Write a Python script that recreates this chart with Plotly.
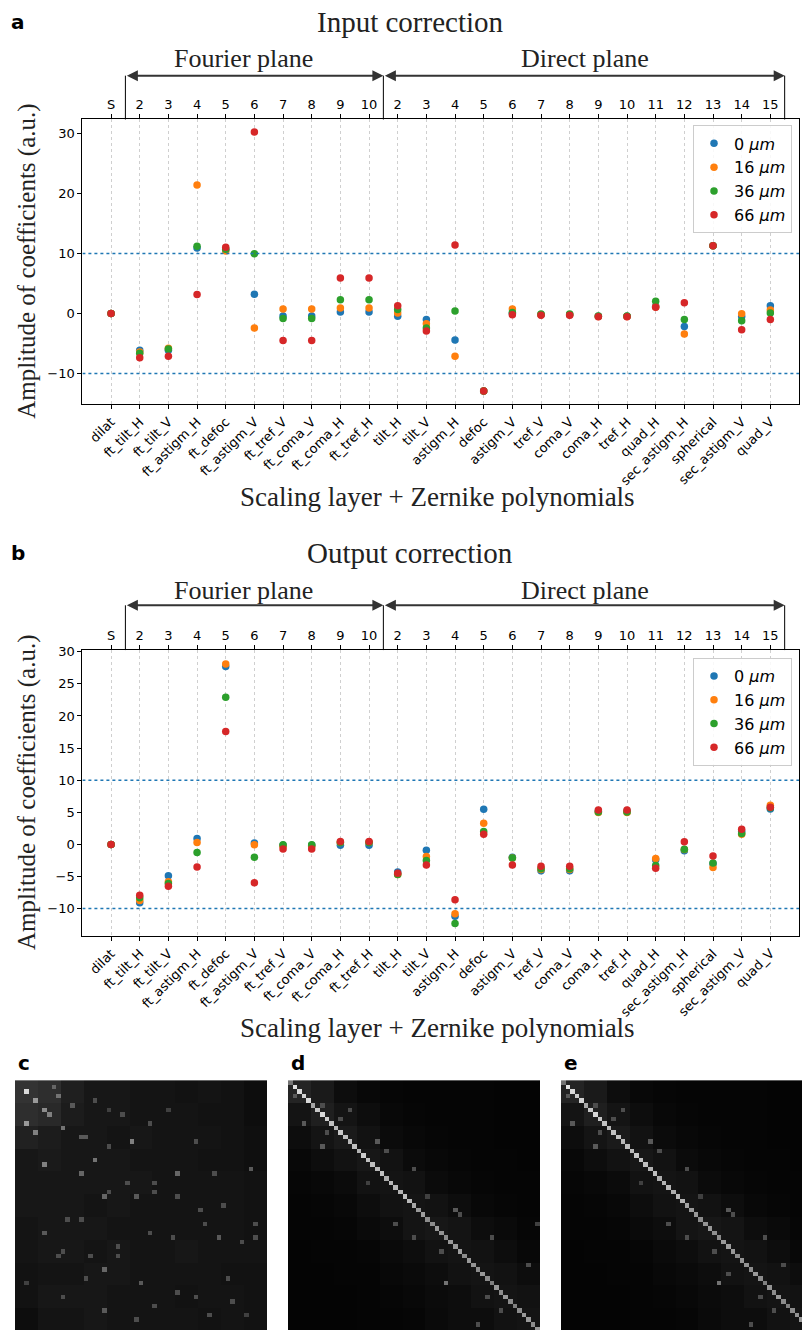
import numpy as np
import plotly.graph_objects as go

# ---------------- data ----------------
categories = ["dilat", "ft_tilt_H", "ft_tilt_V", "ft_astigm_H", "ft_defoc", "ft_astigm_V",
              "ft_tref_V", "ft_coma_V", "ft_coma_H", "ft_tref_H", "tilt_H", "tilt_V",
              "astigm_H", "defoc", "astigm_V", "tref_V", "coma_V", "coma_H", "tref_H",
              "quad_H", "sec_astigm_H", "spherical", "sec_astigm_V", "quad_V"]
top_labels = ["S", "2", "3", "4", "5", "6", "7", "8", "9", "10",
              "2", "3", "4", "5", "6", "7", "8", "9", "10", "11", "12", "13", "14", "15"]
series_names = ["0 <i>μm</i>", "16 <i>μm</i>", "36 <i>μm</i>", "66 <i>μm</i>"]
series_colors = ["#1f77b4", "#ff7f0e", "#2ca02c", "#d62728"]

in_0um = [0, -6.1, -6.1, 10.9, 10.6, 3.2, -0.4, -0.4, 0.25, 0.25, -0.45, -1.0, -4.4, -12.9,
          0.0, -0.2, -0.2, -0.45, -0.45, 1.2, -2.15, 11.3, -0.5, 1.3]
in_16um = [0, -6.4, -5.8, 21.4, 10.4, -2.4, 0.77, 0.77, 0.9, 0.9, 0.1, -1.7, -7.1, -12.9,
           0.77, -0.2, -0.2, -0.5, -0.5, 1.1, -3.4, 11.3, -0.05, 0.6]
in_36um = [0, -6.6, -5.9, 11.2, 10.7, 9.95, -0.85, -0.85, 2.3, 2.3, 0.65, -2.4, 0.4, -12.9,
           0.17, -0.1, -0.1, -0.4, -0.4, 2.05, -1.0, 11.3, -1.2, 0.1]
in_66um = [0, -7.35, -7.1, 3.15, 11.05, 30.2, -4.48, -4.48, 5.9, 5.9, 1.3, -2.9, 11.4, -12.9,
           -0.2, -0.3, -0.3, -0.55, -0.55, 1.05, 1.8, 11.3, -2.7, -1.0]

out_0um = [0, -9.07, -4.9, 0.9, 27.7, 0.2, -0.15, -0.15, -0.15, -0.15, -4.3, -0.9, -11.2, 5.46,
           -2.0, -4.1, -4.1, 5.15, 5.15, -2.4, -1.0, -3.0, 2.0, 5.5]
out_16um = [0, -8.75, -5.8, 0.3, 28.1, -0.05, -0.3, -0.3, 0.3, 0.3, -4.7, -1.9, -10.8, 3.3,
            -2.1, -3.9, -3.9, 4.95, 4.95, -2.2, -0.8, -3.6, 1.6, 6.08]
out_36um = [0, -8.3, -6.1, -1.26, 22.9, -2.0, -0.05, -0.05, 0.3, 0.3, -4.7, -2.5, -12.3, 2.0,
            -2.1, -3.8, -3.8, 5.05, 5.05, -3.3, -0.75, -2.9, 1.7, 5.7]
out_66um = [0, -7.9, -6.5, -3.5, 17.6, -5.96, -0.7, -0.7, 0.45, 0.45, -4.5, -3.2, -8.6, 1.6,
            -3.2, -3.4, -3.4, 5.35, 5.35, -3.7, 0.4, -1.8, 2.36, 5.8]

input_series = [in_0um, in_16um, in_36um, in_66um]
output_series = [out_0um, out_16um, out_36um, out_66um]

# heatmaps: coarse 11x11 block brightness (each block = 5x5 cells) + listed bright cells
N_CELLS = 55
c_blocks = [
    [.20, .18, .12, .09, .09, .08, .08, .07, .08, .07, .05],
    [.18, .16, .11, .09, .09, .08, .08, .08, .07, .07, .05],
    [.13, .11, .09, .09, .08, .09, .08, .08, .08, .07, .06],
    [.09, .10, .09, .09, .09, .08, .08, .08, .07, .07, .06],
    [.09, .09, .09, .09, .09, .09, .08, .08, .08, .08, .07],
    [.09, .09, .09, .08, .09, .08, .08, .08, .08, .08, .07],
    [.08, .09, .09, .09, .08, .08, .08, .08, .08, .08, .07],
    [.08, .09, .09, .08, .09, .08, .08, .09, .08, .08, .08],
    [.07, .08, .08, .09, .09, .08, .08, .08, .08, .07, .07],
    [.07, .09, .09, .09, .08, .08, .08, .07, .08, .08, .07],
    [.05, .08, .08, .09, .08, .08, .08, .08, .07, .08, .07],
]
c_rows = [2, 4, 6, 9, 11, 7, 3, 10, 13, 18, 17, 20, 20, 19, 25, 25, 33, 34, 34, 41, 44, 50,
          38, 1, 5, 14, 22, 28, 30, 46, 48, 36, 12, 27,
          4, 6, 7, 9, 6, 13, 20, 12, 24, 22, 24, 25, 30, 37, 38, 38, 33, 34, 31, 35, 31,
          44, 47, 43, 49, 47, 43, 51, 51, 52]
c_cols = [2, 4, 6, 2, 4, 7, 9, 10, 25, 6, 17, 14, 35, 51, 19, 26, 6, 44, 52, 19, 27, 19,
          9, 8, 12, 20, 30, 40, 11, 35, 47, 22, 15, 45,
          17, 20, 23, 29, 33, 39, 43, 14, 20, 24, 30, 35, 14, 10, 16, 22, 29, 34, 41, 49, 52,
          2, 10, 15, 30, 39, 46, 42, 50, 26]
c_vals = [.85, .6, .55, .6, .5, .5, .45, .45, .5, .5, .45, .4, .4, .35, .4, .35, .35, .35, .3,
          .4, .35, .35, .3, .4, .35, .3, .3, .3, .3, .3, .3, .3, .35, .3,
          .3, .25, .3, .3, .25, .3, .3, .35, .3, .3, .3, .3, .3, .3, .3, .3, .3, .3, .3, .3,
          .3, .25, .3, .3, .3, .3, .3, .3, .25, .3]

d_blocks = [
    [.14, .10, .05, .03, .025, .02, .02, .02, .02, .015, .015],
    [.08, .12, .08, .05, .03, .025, .02, .02, .02, .015, .015],
    [.05, .08, .10, .07, .045, .03, .025, .02, .02, .015, .015],
    [.03, .05, .07, .09, .07, .045, .03, .025, .02, .02, .015],
    [.025, .03, .045, .07, .08, .07, .045, .03, .025, .02, .02],
    [.02, .025, .03, .05, .07, .08, .07, .05, .03, .025, .02],
    [.02, .02, .025, .04, .05, .08, .09, .08, .05, .04, .025],
    [.015, .02, .02, .025, .04, .05, .07, .08, .07, .05, .03],
    [.015, .015, .02, .02, .03, .04, .05, .07, .08, .07, .05],
    [.015, .015, .015, .02, .025, .03, .045, .05, .07, .08, .07],
    [.015, .015, .015, .02, .02, .025, .04, .05, .05, .07, .08],
]
d_diag = [0.45, 0.88, 0.85, 0.82, 0.85, 0.65, 0.78, 0.85, 0.8, 0.75, 0.7, 0.78, 0.75, 0.72,
          0.75, 0.7, 0.8, 0.75, 0.75, 0.72, 0.76, 0.68, 0.72, 0.72, 0.7, 0.75, 0.72, 0.66,
          0.6, 0.62, 0.55, 0.55, 0.6, 0.58, 0.55, 0.6, 0.6, 0.62, 0.55, 0.6, 0.58, 0.55,
          0.6, 0.55, 0.5, 0.6, 0.55, 0.6, 0.55, 0.5, 0.55, 0.6, 0.6, 0.55, 0.6]
d_rows = [9, 14, 6, 13, 15, 19, 28, 29, 34, 44, 34, 31, 40, 31, 53, 11, 3, 5, 8, 22, 25,
          37, 47, 50]
d_cols = [3, 7, 13, 19, 21, 27, 36, 37, 44, 34, 27, 23, 52, 54, 41, 8, 1, 7, 11, 17, 30,
          33, 43, 46]
d_vals = [.35, .35, .3, .35, .3, .3, .35, .3, .3, .45, .3, .3, .3, .25, .3, .3, .35, .3, .3,
          .25, .25, .3, .3, .3]

e_blocks = d_blocks
e_diag = [0.45, 0.9, 0.85, 0.8, 0.82, 0.66, 0.78, 0.84, 0.78, 0.76, 0.72, 0.76, 0.76, 0.72,
          0.75, 0.72, 0.78, 0.75, 0.75, 0.7, 0.75, 0.68, 0.7, 0.72, 0.68, 0.72, 0.7, 0.64,
          0.6, 0.6, 0.55, 0.58, 0.6, 0.56, 0.55, 0.6, 0.62, 0.6, 0.55, 0.58, 0.58, 0.55,
          0.6, 0.55, 0.5, 0.58, 0.55, 0.6, 0.55, 0.5, 0.55, 0.58, 0.6, 0.55, 0.6]
e_rows = [9, 14, 6, 13, 15, 19, 28, 29, 34, 44, 34, 31, 40, 53, 11, 3, 5, 8, 22, 25, 37,
          47, 50, 42]
e_cols = [2, 7, 13, 19, 21, 27, 36, 37, 44, 34, 27, 23, 48, 41, 8, 1, 7, 11, 17, 30, 33,
          43, 46, 36]
e_vals = [.35, .35, .3, .35, .3, .3, .35, .3, .3, .45, .3, .3, .3, .3, .3, .35, .3, .3, .25,
          .25, .3, .3, .3, .3]


def build_matrix(blocks, rows, cols, vals, diag=None):
    m = np.kron(np.array(blocks), np.ones((5, 5)))[:N_CELLS, :N_CELLS].copy()
    if diag is not None:
        for i, v in enumerate(diag):
            m[i, i] = v
    for r, c, v in zip(rows, cols, vals):
        m[r, c] = v
    return m


# ---------------- layout helpers ----------------
W, H = 802, 1330


def px(x):
    return x / W


def py(y):
    return 1 - y / H


fig = go.Figure()

SERIF = "Liberation Serif"
SANS = "DejaVu Sans"

AX_L, AX_R = 82.4, 799
panels = [
    dict(top=114, bottom=400, yr=[-15.1, 32.3], ytv=[-10, 0, 10, 20, 30], data=input_series,
         xa="x", ya="y", xt="x3", xtop="xaxis3", legend="legend", title="Input correction",
         title_y=16, label="a", plane_y=53, arrow_y=70, xlabel_y=493),
    dict(top=647, bottom=934, yr=[-14.23, 30.26], ytv=[-10, -5, 0, 5, 10, 15, 20, 25, 30],
         data=output_series, xa="x2", ya="y2", xt="x4", xtop="xaxis4", legend="legend2",
         title="Output correction", title_y=549, label="b", plane_y=587, arrow_y=602,
         xlabel_y=1027),
]

xpos = list(range(len(categories)))
annotations = []
shapes = []

for pi, p in enumerate(panels):
    for si in range(4):
        fig.add_trace(go.Scatter(
            x=xpos, y=p["data"][si], mode="markers", name=series_names[si],
            marker=dict(color=series_colors[si], size=7.5, line=dict(width=0)),
            xaxis=p["xa"], yaxis=p["ya"], legend=p["legend"], showlegend=True))
    # invisible carrier trace so the top (secondary) axis is drawn
    fig.add_trace(go.Scatter(x=xpos, y=[None] * len(xpos), mode="markers",
                             xaxis=p["xt"], yaxis=p["ya"], showlegend=False,
                             hoverinfo="skip"))

    dom_y = [py(p["bottom"]), py(p["top"])]
    xk = "xaxis" if pi == 0 else "xaxis2"
    yk = "yaxis" if pi == 0 else "yaxis2"
    fig.update_layout(**{
        xk: dict(domain=[px(AX_L), px(AX_R)], range=[-1, 24], anchor=p["ya"],
                 tickmode="array", tickvals=xpos, ticktext=categories, tickangle=-45,
                 tickfont=dict(family=SANS, size=13, color="black"),
                 ticks="outside", ticklen=4, tickcolor="black",
                 showline=True, linecolor="black", linewidth=1.2, mirror=False,
                 showgrid=True, gridcolor="#cfcfcf", griddash="dot", gridwidth=1,
                 zeroline=False),
        yk: dict(domain=dom_y, range=p["yr"], anchor=p["xa"],
                 tickmode="array", tickvals=p["ytv"],
                 tickfont=dict(family=SANS, size=13, color="black"),
                 ticks="outside", ticklen=4, tickcolor="black",
                 showline=True, linecolor="black", linewidth=1.2, mirror=True,
                 showgrid=False, zeroline=False),
        p["xtop"]: dict(overlaying=p["xa"], side="top", anchor=p["ya"], range=[-1, 24],
                        domain=[px(AX_L), px(AX_R)],
                        tickmode="array", tickvals=xpos, ticktext=top_labels,
                        tickfont=dict(family=SANS, size=13, color="black"),
                        ticks="outside", ticklen=4, tickcolor="black",
                        showline=True, linecolor="black", linewidth=1.2,
                        showgrid=False, zeroline=False),
    })

    for yv in (10, -10):
        shapes.append(dict(type="line", xref=p["xa"], yref=p["ya"], x0=-1, x1=24, y0=yv, y1=yv,
                           line=dict(color="#1f77b4", width=1.5, dash="dot")))
    for xv in (0.5, 9.5, 23.5):
        shapes.append(dict(type="line", xref=p["xa"], yref="paper", x0=xv, x1=xv,
                           y0=py(p["top"]), y1=py(p["arrow_y"]),
                           line=dict(color="black", width=1)))
    for (a0, a1) in ((0.5, 9.5), (9.5, 23.5)):
        annotations.append(dict(x=a1, y=py(p["arrow_y"]), xref=p["xa"], yref="paper",
                                ax=a0, ay=0, axref=p["xa"], ayref="pixel",
                                text="", showarrow=True, arrowhead=2, arrowside="end+start",
                                arrowsize=1.1, arrowwidth=2, arrowcolor="#333333",
                                standoff=0, startstandoff=0))
    annotations.append(dict(x=243 / W, y=py(p["plane_y"]), xref="paper", yref="paper",
                            text="Fourier plane", showarrow=False,
                            font=dict(family=SERIF, size=26, color="#222222"),
                            xanchor="center", yanchor="middle"))
    annotations.append(dict(x=585 / W, y=py(p["plane_y"]), xref="paper", yref="paper",
                            text="Direct plane", showarrow=False,
                            font=dict(family=SERIF, size=26, color="#222222"),
                            xanchor="center", yanchor="middle"))
    annotations.append(dict(x=410 / W, y=py(p["title_y"]), xref="paper", yref="paper",
                            text=p["title"], showarrow=False,
                            font=dict(family=SERIF, size=29, color="#222222"),
                            xanchor="center", yanchor="middle"))
    annotations.append(dict(x=9 / W, y=py(p["title_y"]), xref="paper", yref="paper",
                            text="<b>" + p["label"] + "</b>", showarrow=False,
                            font=dict(family=SANS, size=20, color="black"),
                            xanchor="left", yanchor="middle"))
    annotations.append(dict(x=438 / W, y=py(p["xlabel_y"]), xref="paper", yref="paper",
                            text="Scaling layer + Zernike polynomials", showarrow=False,
                            font=dict(family=SERIF, size=27, color="#222222"),
                            xanchor="center", yanchor="middle"))
    annotations.append(dict(x=27 / W, y=py((p["top"] + p["bottom"]) / 2), xref="paper",
                            yref="paper", text="Amplitude of coefficients (a.u.)",
                            showarrow=False, textangle=-90,
                            font=dict(family=SERIF, size=25, color="#222222"),
                            xanchor="center", yanchor="middle"))

leg_common = dict(xanchor="left", yanchor="top", bordercolor="#cccccc", borderwidth=1,
                  bgcolor="rgba(255,255,255,0.85)",
                  font=dict(family=SANS, size=16, color="black"), tracegroupgap=0)
fig.update_layout(
    legend=dict(x=px(693), y=py(120), **leg_common),
    legend2=dict(x=px(693), y=py(655), **leg_common),
)

# ---------------- heatmaps ----------------
mats = [build_matrix(c_blocks, c_rows, c_cols, c_vals),
        build_matrix(d_blocks, d_rows, d_cols, d_vals, d_diag),
        build_matrix(e_blocks, e_rows, e_cols, e_vals, e_diag)]
hm_left = [15, 288, 561]
hm_labels = ["c", "d", "e"]
cell = 252 / N_CELLS
for k in range(3):
    xa = "x%d" % (5 + k)
    ya = "y%d" % (5 + k)
    fig.add_trace(go.Heatmap(z=mats[k], colorscale=[[0, "black"], [1, "white"]], zmin=0,
                             zmax=1, showscale=False, xaxis=xa, yaxis=ya))
    left = hm_left[k]
    right = min(left + 252, W)
    xr = [-0.5, -0.5 + (right - left) / cell]
    fig.update_layout(**{
        "xaxis%d" % (5 + k): dict(domain=[px(left), px(right)], range=xr, visible=False,
                                  anchor=ya),
        "yaxis%d" % (5 + k): dict(domain=[0, py(1079)], range=[-0.5 + 251 / cell, -0.5],
                                  visible=False, anchor=xa),
    })
    annotations.append(dict(x=(left + 1) / W, y=py(1062), xref="paper", yref="paper",
                            text="<b>" + hm_labels[k] + "</b>", showarrow=False,
                            font=dict(family=SANS, size=20, color="black"),
                            xanchor="left", yanchor="middle"))

fig.update_layout(width=W, height=H, margin=dict(l=0, r=0, t=0, b=0),
                  paper_bgcolor="white", plot_bgcolor="white",
                  annotations=annotations, shapes=shapes)

fig.write_html("out.html")
